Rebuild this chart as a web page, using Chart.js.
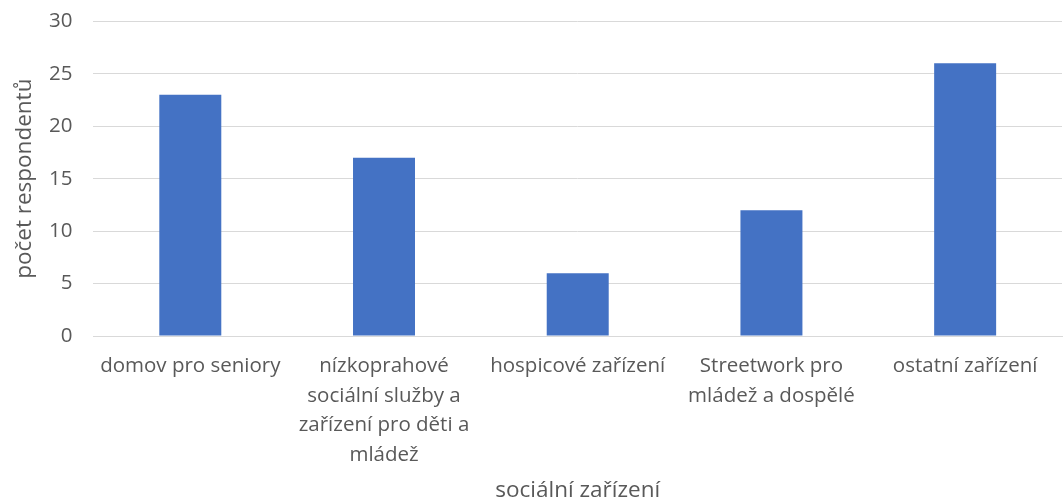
<!DOCTYPE html>
<html>
<head>
<meta charset="utf-8">
<script src="https://cdn.jsdelivr.net/npm/chart.js@4"></script>
<style>
  html, body { margin: 0; padding: 0; background: #fff; }
  #wrap { width: 1063px; height: 504px; position: relative; }
</style>
</head>
<body>
<div id="wrap"><canvas id="chart"></canvas></div>
<script>
// categories (multi-line labels as in the original)
const categories = [
    'domov pro seniory',
    ['nízkoprahové', 'sociální služby a', 'zařízení pro děti a', 'mládež'],
    'hospicové zařízení',
    ['Streetwork pro', 'mládež a dospělé'],
    'ostatní zařízení'
];
const respondents = [23, 17, 6, 12, 26];
const yTicks = [0, 5, 10, 15, 20, 25, 30];

const textColor = '#595959';
const gridColor = '#d9d9d9';
const fontFamily = '"Open Sans", sans-serif';

new Chart(document.getElementById('chart'), {
    type: 'bar',
    data: {
        labels: categories,
        datasets: [{
            label: 'počet respondentů',
            data: respondents,
            backgroundColor: '#4472c4',
            barPercentage: 0.32,
            categoryPercentage: 1.0
        }]
    },
    options: {
        responsive: true,
        maintainAspectRatio: false,
        animation: false,
        layout: { padding: { top: 0, right: 1, left: 11, bottom: 0 } },
        plugins: {
            legend: { display: false },
            tooltip: { enabled: false }
        },
        scales: {
            x: {
                grid: { display: false },
                border: { color: gridColor, width: 1 },
                ticks: {
                    color: textColor,
                    font: { family: fontFamily, size: 20.5, lineHeight: 1.45 },
                    maxRotation: 0,
                    autoSkip: false,
                    padding: 7
                },
                title: {
                    display: true,
                    text: 'sociální zařízení',
                    color: textColor,
                    font: { family: fontFamily, size: 22.5, lineHeight: 1.2 },
                    padding: { top: 0, bottom: 0 }
                }
            },
            y: {
                min: 0,
                max: 30,
                afterBuildTicks: axis => { axis.ticks = yTicks.map(v => ({ value: v })); },
                // invisible tick marks give the gap between labels and plot
                grid: { color: gridColor, lineWidth: 1, drawTicks: true, tickLength: 12, tickColor: 'rgba(0,0,0,0)' },
                border: { display: false },
                ticks: {
                    color: textColor,
                    font: { family: fontFamily, size: 20.5 },
                    padding: 9
                },
                title: {
                    display: true,
                    text: 'počet respondentů',
                    color: textColor,
                    font: { family: fontFamily, size: 22.5 },
                    padding: { top: 0, bottom: 2 }
                }
            }
        }
    }
});
</script>
</body>
</html>
